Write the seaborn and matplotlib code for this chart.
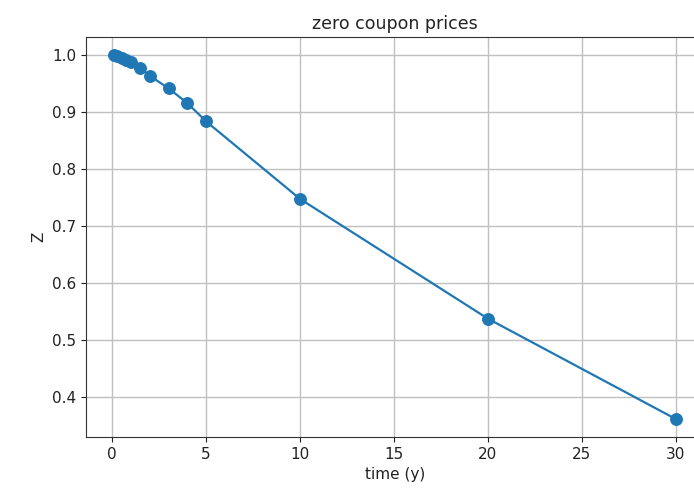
import matplotlib
matplotlib.use("Agg")
import matplotlib.pyplot as plt
import seaborn as sns
import pandas as pd

times = [0.1, 0.25, 0.5, 0.75, 1.0, 1.5, 2.0, 3.0, 4.0, 5.0, 10.0, 20.0, 30.0]
prices = [1.0, 0.998, 0.995, 0.992, 0.989, 0.977, 0.964, 0.942, 0.916, 0.884, 0.748, 0.538, 0.362]
xticks = [0, 5, 10, 15, 20, 25, 30]
yticks = [0.4, 0.5, 0.6, 0.7, 0.8, 0.9, 1.0]

df = pd.DataFrame({"t": times, "Z": prices})

plt.rcParams['font.family'] = ['DejaVu Sans']
fig = plt.figure(figsize=(6.94, 4.95), dpi=100)
ax = fig.add_axes([0.124, 0.117, 0.89, 0.808])
sns.lineplot(data=df, x="t", y="Z", marker="o", markersize=8.5, color="#1f77b4",
             markeredgecolor="#1f77b4", linewidth=1.6, ax=ax)
ax.set_xticks(xticks)
ax.set_yticks(yticks)
ax.set_xlim(-1.395, 31.5)
ax.set_ylim(0.3301, 1.0319)
ax.grid(True, color="#c0c0c0", linewidth=1.0)
ax.tick_params(labelsize=11, colors="#222222")
ax.set_xlabel("time (y)", fontsize=11, color="#222222")
ax.set_ylabel("Z", fontsize=11, color="#222222")
ax.set_title("zero coupon prices", fontsize=12.5, color="#222222")
for s in ax.spines.values():
    s.set_color("#333333")
fig.savefig("out.png", dpi=100)
